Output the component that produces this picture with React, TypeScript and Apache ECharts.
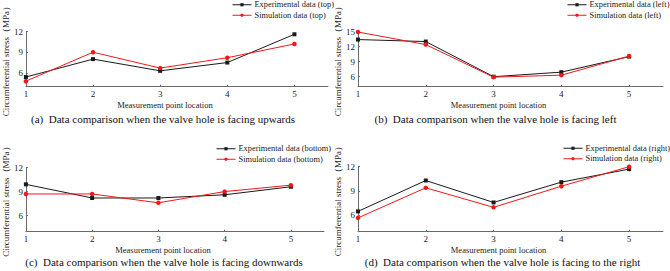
import React, { useEffect, useRef } from "react";
import * as echarts from "echarts";

// Measurement points along the valve body
const points = [1, 2, 3, 4, 5];
const xTicks = [1, 2, 3, 4, 5];

// Circumferential stress (MPa), valve hole facing upwards
const expTop = [5.4, 8.0, 6.3, 7.5, 11.6];
const simTop = [4.8, 9.0, 6.7, 8.2, 10.2];

// Valve hole facing left
const expLeft = [13.4, 13.0, 6.0, 6.9, 10.0];
const simLeft = [14.9, 12.4, 5.9, 6.3, 10.1];

// Valve hole facing downwards
const expBottom = [9.9, 8.2, 8.2, 8.6, 9.6];
const simBottom = [8.7, 8.7, 7.6, 9.0, 9.8];

// Valve hole facing to the right
const expRight = [6.5, 10.3, 7.6, 10.1, 11.7];
const simRight = [5.7, 9.4, 7.0, 9.6, 12.0];

const yTicksA = [6, 9, 12];
const yTicksB = [6, 9, 12, 15];

const captions = [
  "(a)  Data comparison when the valve hole is facing upwards",
  "(b)  Data comparison when the valve hole is facing left",
  "(c)  Data comparison when the valve hole is facing downwards",
  "(d)  Data comparison when the valve hole is facing to the right",
];

const FONT = "'Liberation Serif', 'Times New Roman', serif";
const BLACK = "#1a1a1a";
const RED = "#f01818";

const pairs = (vals: number[]) => points.map((p, i) => [p, vals[i]]);

export default function App() {
  const ref = useRef<HTMLDivElement>(null);

  useEffect(() => {
    document.body.style.margin = "0";
    const chart = echarts.init(ref.current!, null, { renderer: "svg" });

    const grids = [
      { left: 21, top: 22, width: 307, height: 64.7 },
      { left: 358, top: 23.3, width: 305, height: 63.4 },
      { left: 21, top: 167.5, width: 303, height: 64.2 },
      { left: 358, top: 166.7, width: 305, height: 65 },
    ];
    const yRanges = [
      { min: 4, max: 12, ticks: yTicksA },
      { min: 4, max: 15, ticks: yTicksB },
      { min: 4, max: 12, ticks: yTicksA },
      { min: 4, max: 12, ticks: yTicksA },
    ];
    const tags = ["top", "left", "bottom", "right"];
    const expSets = [expTop, expLeft, expBottom, expRight];
    const simSets = [simTop, simLeft, simBottom, simRight];
    const legendLeft = [232, 567, 216, 563];
    const legendTop = [-0.5, -0.5, 143.5, 143];
    const captionX = [163, 495.5, 164, 502.5];
    const captionY = [119, 119, 262, 262];

    const axisLine = { show: true, lineStyle: { color: "#6a6a6a", width: 1 } };

    const xAxis = grids.map((_, i) => ({
      type: "value",
      gridIndex: i,
      min: 1,
      max: 5.5,
      name: "Measurement point location",
      nameLocation: "middle",
      nameGap: 14,
      nameTextStyle: {
        fontFamily: FONT,
        fontSize: 8.5,
        color: "#222",
        padding: [0, 24, 0, 0],
      },
      axisLine,
      axisTick: { show: true, inside: true, length: 2, customValues: xTicks, lineStyle: { color: "#6a6a6a" } },
      axisLabel: {
        customValues: xTicks,
        fontFamily: FONT,
        fontSize: 9,
        color: "#222",
        margin: 3,
      },
      splitLine: { show: false },
    }));

    const yAxis = grids.map((_, i) => ({
      type: "value",
      gridIndex: i,
      min: yRanges[i].min,
      max: yRanges[i].max,
      name: "Circumferential stress（MPa）",
      nameLocation: "middle",
      nameGap: 14,
      nameTextStyle: { fontFamily: FONT, fontSize: 9, color: "#222" },
      axisLine,
      axisTick: {
        show: true,
        inside: true,
        length: 2,
        customValues: yRanges[i].ticks,
        lineStyle: { color: "#6a6a6a" },
      },
      axisLabel: {
        customValues: yRanges[i].ticks,
        fontFamily: FONT,
        fontSize: 9,
        color: "#222",
        margin: 3,
      },
      splitLine: { show: false },
    }));

    const series: any[] = [];
    const legends: any[] = [];
    grids.forEach((_, i) => {
      const expName = `Experimental data (${tags[i]})`;
      const simName = `Simulation data (${tags[i]})`;
      series.push({
        type: "line",
        name: expName,
        xAxisIndex: i,
        yAxisIndex: i,
        data: pairs(expSets[i]),
        symbol: "rect",
        symbolSize: 4,
        lineStyle: { color: BLACK, width: 1 },
        itemStyle: { color: BLACK },
      });
      series.push({
        type: "line",
        name: simName,
        xAxisIndex: i,
        yAxisIndex: i,
        data: pairs(simSets[i]),
        symbol: "circle",
        symbolSize: 4.5,
        lineStyle: { color: RED, width: 1 },
        itemStyle: { color: RED },
      });
      legends.push({
        data: [expName, simName],
        orient: "vertical",
        left: legendLeft[i],
        top: legendTop[i],
        itemWidth: 19,
        itemHeight: 4,
        itemGap: 0,
        padding: 0,
        lineStyle: { width: 1 },
        textStyle: {
          fontFamily: FONT,
          fontSize: 8.4,
          color: "#222",
          lineHeight: 10.5,
          padding: [0, 0, 0, -2],
        },
      });
    });

    const graphic = captions.map((t, i) => ({
      type: "text",
      x: captionX[i],
      y: captionY[i],
      style: {
        text: t,
        fontFamily: FONT,
        fontSize: 11,
        fill: "#111",
        textAlign: "center",
        textVerticalAlign: "middle",
      },
    }));

    chart.setOption({
      animation: false,
      backgroundColor: "#ffffff",
      grid: grids,
      xAxis,
      yAxis,
      legend: legends,
      series,
      graphic,
    });

    return () => chart.dispose();
  }, []);

  return <div ref={ref} style={{ width: 670, height: 271 }} />;
}
